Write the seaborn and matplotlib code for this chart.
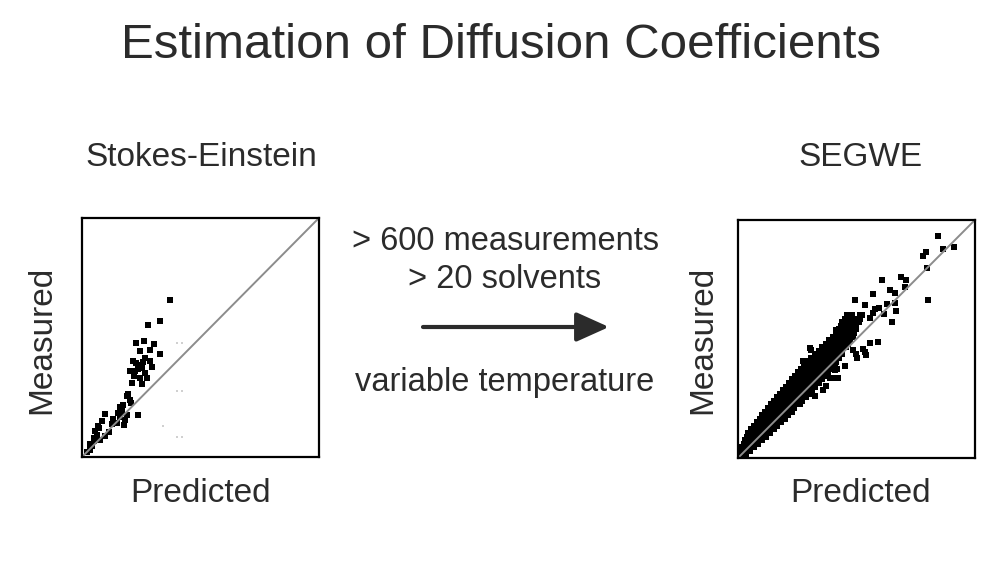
import matplotlib
matplotlib.use("Agg")
from matplotlib import pyplot as plt
import pandas as pd
import seaborn as sns

# Stokes-Einstein: predicted vs measured (arbitrary 0-100 units)
se_pred = [37.2, 33.0, 27.8, 22.9, 26.0, 30.5, 24.6, 28.5, 33.0, 21.5, 24.3, 28.8,
           20.1, 22.5, 25.3, 26.7, 29.5, 21.8, 24.6, 27.4, 21.1, 25.3, 19.0, 20.4,
           15.9, 16.9, 15.0, 19.0, 23.5, 13.3, 16.2, 12.6, 14.7, 17.6, 9.6, 8.4,
           7.0, 6.3, 5.6, 9.8, 7.7, 4.9, 4.2, 3.2, 2.1, 23.0, 26.5, 20.5, 18.0, 11.5,
           23.5, 25.8, 19.6, 17.3, 6.6, 5.2, 3.6]
se_meas = [65.8, 57.0, 55.1, 47.7, 48.7, 47.3, 44.2, 44.9, 43.1, 40.3, 38.6, 40.3,
           36.1, 35.8, 37.2, 35.1, 37.5, 33.8, 33.1, 33.1, 31.0, 30.5, 25.4, 24.0,
           20.8, 19.1, 18.4, 17.7, 17.4, 16.0, 16.6, 13.8, 14.2, 13.5, 18.0, 14.9,
           12.1, 9.3, 11.0, 8.6, 7.3, 6.6, 4.5, 3.1, 2.1, 39.5, 41.5, 22.5, 15.5, 10.5,
           37.0, 39.8, 26.5, 21.8, 13.0, 8.0, 5.6]
# faint specks right of the diagonal
se_ghost_pred = [40.0, 42.1, 40.0, 42.1, 40.0, 42.1, 34.4]
se_ghost_meas = [47.7, 47.7, 27.8, 27.8, 8.2, 8.2, 12.8]

# SEGWE: scattered points
segwe_pred = [84.5, 91.1, 86.6, 79.3, 77.9, 79.6, 80.0, 68.7, 70.7, 70.4, 60.6, 64.1,
              66.2, 56.8, 49.3, 53.5, 62.7, 59.4, 66.2, 66.8, 61.7, 64.8, 55.6, 51.4,
              47.2, 43.7, 45.1, 41.5, 55.6, 59.2, 52.8, 50.4, 54.2, 48.6, 31.0, 27.5,
              45.1, 40.8, 38.7, 41.5, 35.9, 32.4, 21.8, 16.2, 58.0, 57.0, 50.0, 47.0,
              30.2, 28.1, 19.0, 41.8, 42.2, 37.3, 49.9, 53.4]
segwe_meas = [93.4, 88.8, 87.8, 86.7, 85.0, 79.7, 66.4, 76.2, 74.8, 72.0, 74.8, 70.6,
              69.2, 69.0, 66.4, 64.3, 64.6, 63.2, 65.0, 61.8, 60.6, 57.3, 58.7, 60.1,
              60.1, 57.3, 53.8, 53.8, 48.3, 48.7, 45.9, 42.2, 43.4, 45.5, 45.5, 40.6,
              38.5, 37.1, 33.6, 33.6, 28.7, 25.9, 31.5, 23.1, 62.5, 61.0, 58.5, 56.0,
              46.2, 40.6, 28.6, 37.3, 33.8, 30.3, 43.7, 44.5]
# SEGWE: dense band, measured value -> predicted values
segwe_band = {
    1.5: [0.8, 2.0, 3.2],
    3: [1.2, 2.4, 3.6, 4.9],
    4.5: [1.8, 3.0, 4.2, 5.4, 6.6],
    6: [2.4, 3.6, 4.8, 6.0, 7.2, 8.4],
    7.5: [3.0, 4.2, 5.4, 6.6, 7.8, 9.0, 10.1],
    9: [3.6, 4.8, 6.0, 7.2, 8.4, 9.6, 10.8, 11.8],
    10.5: [4.4, 5.6, 6.8, 8.0, 9.2, 10.4, 11.6, 12.8, 13.5],
    12: [5.6, 6.8, 8.0, 9.2, 10.4, 11.6, 12.8, 14.0, 15.1],
    13.5: [6.8, 8.0, 9.2, 10.4, 11.6, 12.8, 14.0, 15.2, 16.4],
    15: [7.9, 9.1, 10.3, 11.5, 12.7, 13.9, 15.1, 16.3, 17.5, 18.3],
    16.5: [9.1, 10.3, 11.5, 12.7, 13.9, 15.1, 16.3, 17.5, 18.7, 19.8],
    18: [10.3, 11.5, 12.7, 13.9, 15.1, 16.3, 17.5, 18.7, 19.9, 21.1],
    19.5: [11.5, 12.7, 13.9, 15.1, 16.3, 17.5, 18.7, 19.9, 21.1, 22.6],
    21: [12.6, 13.8, 15.0, 16.2, 17.4, 18.6, 19.8, 21.0, 22.2, 23.6],
    22.5: [13.8, 15.0, 16.2, 17.4, 18.6, 19.8, 21.0, 22.2, 23.4, 24.6, 26.0],
    24: [15.0, 16.2, 17.4, 18.6, 19.8, 21.0, 22.2, 23.4, 24.6, 25.8, 27.2],
    25.5: [16.3, 17.5, 18.7, 19.9, 21.1, 22.3, 23.5, 24.7, 25.9, 27.1, 28.6],
    27: [17.6, 18.8, 20.0, 21.2, 22.4, 23.6, 24.8, 26.0, 27.2, 28.4, 29.8],
    28.5: [18.9, 20.1, 21.3, 22.5, 23.7, 24.9, 26.1, 27.3, 28.5, 29.7, 31.2],
    30: [20.1, 21.3, 22.5, 23.7, 24.9, 26.1, 27.3, 28.5, 29.7, 31.0, 32.6],
    31.5: [21.4, 22.6, 23.8, 25.0, 26.2, 27.4, 28.6, 29.8, 31.0, 32.4, 34.0],
    33: [22.7, 23.9, 25.1, 26.3, 27.5, 28.7, 29.9, 31.1, 32.3, 33.7, 35.4],
    34.5: [24.0, 25.2, 26.4, 27.6, 28.8, 30.0, 31.2, 32.4, 33.6, 35.0, 36.8],
    36: [25.3, 26.5, 27.7, 28.9, 30.1, 31.3, 32.5, 33.7, 35.0, 36.5, 38.2],
    37.5: [26.6, 27.8, 29.0, 30.2, 31.4, 32.6, 33.8, 35.0, 36.4, 38.0, 39.8],
    39: [28.0, 29.2, 30.4, 31.6, 32.8, 34.0, 35.2, 36.4, 37.8, 39.4, 41.0],
    40.5: [29.5, 30.7, 31.9, 33.1, 34.3, 35.5, 36.7, 38.0, 39.6, 41.5],
    42: [31.0, 32.2, 33.4, 34.6, 35.8, 37.0, 38.2, 39.6, 41.2, 42.8],
    43.5: [32.5, 33.7, 34.9, 36.1, 37.3, 38.5, 39.7, 41.0, 42.5, 44.0],
    45: [34.0, 35.2, 36.4, 37.6, 38.8, 40.0, 41.2, 42.5, 44.0],
    46.5: [35.5, 36.7, 37.9, 39.1, 40.3, 41.5, 42.8, 44.2, 45.6],
    48: [37.0, 38.2, 39.4, 40.6, 41.8, 43.0, 44.3, 45.6, 46.6],
    49.5: [38.5, 39.7, 40.9, 42.1, 43.3, 44.5, 45.8, 47.2],
    51: [40.0, 41.2, 42.4, 43.6, 44.8, 46.0, 47.3, 48.4],
    52.5: [41.3, 42.5, 43.7, 44.9, 46.1, 47.4, 48.8],
    54: [42.5, 43.7, 44.9, 46.1, 47.3, 48.6, 49.8],
    55.5: [43.6, 44.8, 46.0, 47.2, 48.5, 50.0],
    57: [44.6, 46.0, 47.4, 49.0, 51.0],
    58.5: [45.3, 46.7, 48.5, 51.5],
    60: [46.0, 48.0, 52.5],
}

sns.set_style("white")
plt.rcParams["font.family"] = ["Liberation Sans", "DejaVu Sans"]
text_color = "#2b2b2b"

se_df = pd.DataFrame({"Predicted": se_pred, "Measured": se_meas})
ghost_df = pd.DataFrame({"Predicted": se_ghost_pred, "Measured": se_ghost_meas})
band_rows = [(x, y) for y, xs in segwe_band.items() for x in xs]
segwe_df = pd.concat([
    pd.DataFrame(band_rows, columns=["Predicted", "Measured"]),
    pd.DataFrame({"Predicted": segwe_pred, "Measured": segwe_meas}),
], ignore_index=True)

fig = plt.figure(figsize=(10.02, 5.64), dpi=100)
ax1 = fig.add_axes([0.0818, 0.1897, 0.2365, 0.4238])
ax2 = fig.add_axes([0.7365, 0.1880, 0.2365, 0.4220])

sns.scatterplot(data=ghost_df, x="Predicted", y="Measured", ax=ax1,
                marker="s", s=2, color="#d0d0d0", linewidth=0)
sns.scatterplot(data=se_df, x="Predicted", y="Measured", ax=ax1,
                marker="s", s=21, color="black", linewidth=0)
sns.scatterplot(data=segwe_df, x="Predicted", y="Measured", ax=ax2,
                marker="s", s=16, color="black", linewidth=0)

for ax in (ax1, ax2):
    ax.axline((0, 0), slope=1, color="#8c8c8c", lw=1.4, zorder=1)
    ax.set_xlim(0, 100)
    ax.set_ylim(0, 100)
    ax.set_xticks([])
    ax.set_yticks([])
    ax.set_xlabel("")
    ax.set_ylabel("")
    for sp in ax.spines.values():
        sp.set_color("black")
        sp.set_linewidth(1.6)

def px(x, y):
    return x / 1002, 1 - y / 564

fig.text(*px(501, 45), "Estimation of Diffusion Coefficients", ha="center", va="center",
         fontsize=35.5, color=text_color)
fig.text(*px(201, 157), "Stokes-Einstein", ha="center", va="center", fontsize=24, color=text_color)
fig.text(*px(861, 157), "SEGWE", ha="center", va="center", fontsize=24, color=text_color)
fig.text(*px(201, 493), "Predicted", ha="center", va="center", fontsize=24, color=text_color)
fig.text(*px(861, 493), "Predicted", ha="center", va="center", fontsize=24, color=text_color)
fig.text(*px(42, 340), "Measured", ha="center", va="center", rotation=90, fontsize=24, color=text_color)
fig.text(*px(703, 340), "Measured", ha="center", va="center", rotation=90, fontsize=24, color=text_color)
fig.text(*px(505, 242), "> 600 measurements", ha="center", va="center", fontsize=23.5, color=text_color)
fig.text(*px(505, 280), "> 20 solvents", ha="center", va="center", fontsize=23.5, color=text_color)
fig.text(*px(505, 382), "variable temperature", ha="center", va="center", fontsize=23.5, color=text_color)

fig.patches.append(matplotlib.patches.FancyArrowPatch(
    px(423, 327), px(609, 327), transform=fig.transFigure,
    arrowstyle="-|>,head_length=20,head_width=9", lw=3, color=text_color,
    mutation_scale=1, shrinkA=0, shrinkB=0))

fig.savefig("out.png", dpi=100)
